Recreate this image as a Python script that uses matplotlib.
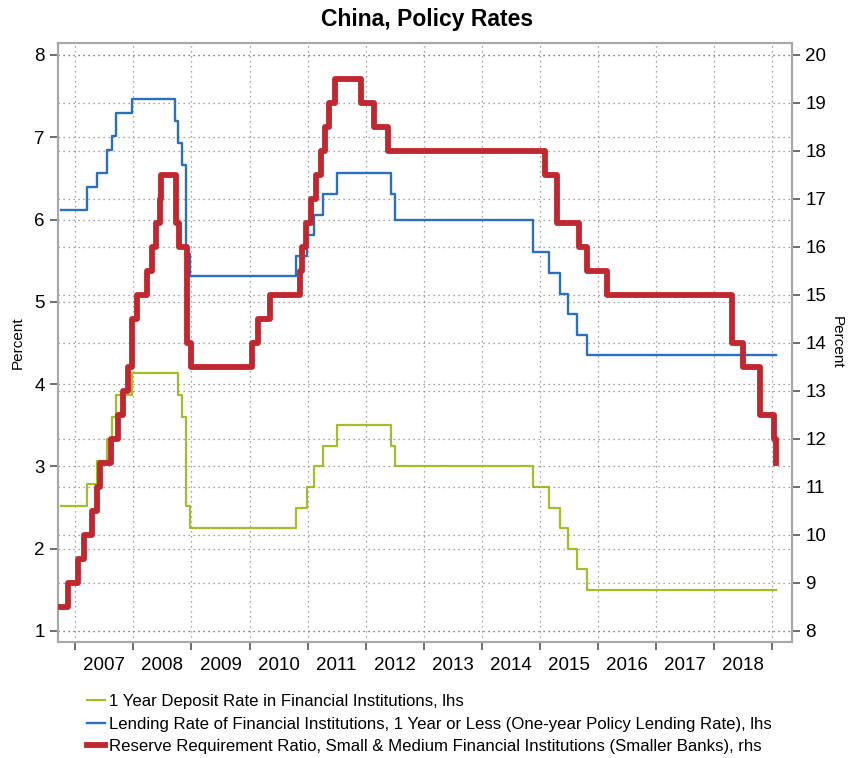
import matplotlib
matplotlib.use("Agg")
import matplotlib.pyplot as plt
import pandas as pd

plt.rcParams['font.family'] = ['Liberation Sans', 'DejaVu Sans']

# Rate change dates and new levels (percent)
deposit_dates = ["2006-10-01", "2007-03-18", "2007-05-19", "2007-07-21", "2007-08-22",
                 "2007-09-15", "2007-12-21", "2008-10-09", "2008-10-30", "2008-11-27",
                 "2008-12-23", "2010-10-20", "2010-12-26", "2011-02-09", "2011-04-06",
                 "2011-07-07", "2012-06-08", "2012-07-06", "2014-11-22", "2015-03-01",
                 "2015-05-11", "2015-06-28", "2015-08-26", "2015-10-24", "2019-01-28"]
deposit_rate = [2.52, 2.79, 3.06, 3.33, 3.60, 3.87, 4.14, 3.87, 3.60, 2.52, 2.25, 2.50,
                2.75, 3.00, 3.25, 3.50, 3.25, 3.00, 2.75, 2.50, 2.25, 2.00, 1.75, 1.50, 1.50]

lending_dates = ["2006-10-01", "2007-03-18", "2007-05-19", "2007-07-21", "2007-08-22",
                 "2007-09-15", "2007-12-21", "2008-09-16", "2008-10-09", "2008-10-30",
                 "2008-11-27", "2008-12-23", "2010-10-20", "2010-12-26", "2011-02-09",
                 "2011-04-06", "2011-07-07", "2012-06-08", "2012-07-06", "2014-11-22",
                 "2015-03-01", "2015-05-11", "2015-06-28", "2015-08-26", "2015-10-24",
                 "2019-01-28"]
lending_rate = [6.12, 6.39, 6.57, 6.84, 7.02, 7.29, 7.47, 7.20, 6.93, 6.66, 5.58, 5.31,
                5.56, 5.81, 6.06, 6.31, 6.56, 6.31, 6.00, 5.60, 5.35, 5.10, 4.85, 4.60,
                4.35, 4.35]

rrr_dates = ["2006-10-01", "2006-11-15", "2007-01-15", "2007-02-25", "2007-04-16",
             "2007-05-15", "2007-06-05", "2007-08-15", "2007-09-25", "2007-10-25",
             "2007-11-26", "2007-12-25", "2008-01-25", "2008-03-25", "2008-04-25",
             "2008-05-20", "2008-06-15", "2008-06-25", "2008-09-25", "2008-10-15",
             "2008-12-05", "2008-12-25", "2010-01-18", "2010-02-25", "2010-05-10",
             "2010-11-16", "2010-11-29", "2010-12-20", "2011-01-20", "2011-02-24",
             "2011-03-25", "2011-04-21", "2011-05-18", "2011-06-20", "2011-12-05",
             "2012-02-24", "2012-05-18", "2015-02-05", "2015-04-20", "2015-09-06",
             "2015-10-24", "2016-03-01", "2018-04-25", "2018-07-05", "2018-10-15",
             "2019-01-15", "2019-01-25", "2019-01-28"]
rrr_rate = [8.5, 9.0, 9.5, 10.0, 10.5, 11.0, 11.5, 12.0, 12.5, 13.0, 13.5, 14.5, 15.0,
            15.5, 16.0, 16.5, 17.0, 17.5, 16.5, 16.0, 14.0, 13.5, 14.0, 14.5, 15.0, 15.5,
            16.0, 16.5, 17.0, 17.5, 18.0, 18.5, 19.0, 19.5, 19.0, 18.5, 18.0, 17.5, 16.5,
            16.0, 15.5, 15.0, 14.0, 13.5, 12.5, 12.0, 11.5, 11.5]

years = list(range(2007, 2019))

labels = ["1 Year Deposit Rate in Financial Institutions, lhs",
          "Lending Rate of Financial Institutions, 1 Year or Less (One-year Policy Lending Rate), lhs",
          "Reserve Requirement Ratio, Small & Medium Financial Institutions (Smaller Banks), rhs"]
colors = ["#a4bd2b", "#2a6fc0", "#c1272f"]


def to_year(dates):
    d = pd.to_datetime(dates)
    return d.year + (d.dayofyear - 1) / 365.25


fig = plt.figure(figsize=(8.54, 7.58), dpi=100)
ax = fig.add_axes([0.0679, 0.153, 0.8595, 0.7903])
ax2 = ax.twinx()

l1, = ax.plot(to_year(deposit_dates), deposit_rate, drawstyle="steps-post",
              color=colors[0], lw=1.6, zorder=3)
l2, = ax.plot(to_year(lending_dates), lending_rate, drawstyle="steps-post",
              color=colors[1], lw=1.7, zorder=3)
l3, = ax2.plot(to_year(rrr_dates), rrr_rate, drawstyle="steps-post",
               color=colors[2], lw=4.2, zorder=3)

ax.set_xlim(2006.70, 2019.345)
ax.set_ylim(0.866, 8.146)
ax2.set_ylim(8 + (0.866 - 1) * 12 / 7, 8 + (8.146 - 1) * 12 / 7)

ax.set_yticks(range(1, 9))
ax2.set_yticks(range(8, 21))

# year boundaries as ticks, labels centred on each year
ax.set_xticks(range(2007, 2020))
ax.set_xticklabels([])
ax.set_xticks([y + 0.5 for y in years], minor=True)
ax.set_xticklabels([str(y) for y in years], minor=True)
ax.tick_params(axis="x", which="minor", length=0, pad=11, labelsize=13.5)
ax.tick_params(axis="x", which="major", length=6, width=1.2, color="#555555")
ax.tick_params(axis="y", length=6, width=1.2, color="#555555", labelsize=13.5)
ax2.tick_params(axis="y", length=6, width=1.2, color="#555555", labelsize=13.5)

ax.grid(True, which="major", linestyle=(0, (1, 3)), color="#888888", lw=0.9)
ax2.grid(True, axis="y", linestyle=(0, (1, 3)), color="#888888", lw=0.9)
ax.set_axisbelow(True)
ax2.set_axisbelow(True)

for a in (ax, ax2):
    for s in a.spines.values():
        s.set_color("#a8a8a8")
        s.set_linewidth(1.5)

ax.set_ylabel("Percent", fontsize=11)
ax.yaxis.set_label_coords(-0.045, 0.5)
ax2.set_ylabel("Percent", fontsize=11, rotation=270)
ax2.yaxis.set_label_coords(1.07, 0.5)

fig.suptitle("China, Policy Rates", fontsize=16.5, fontweight="bold", y=0.99)

fig.legend([l1, l2, l3], labels, loc="upper left", bbox_to_anchor=(0.094, 0.093),
           frameon=False, fontsize=12.1, handlelength=1.1, handletextpad=0.2,
           labelspacing=0.45, borderaxespad=0)

fig.savefig("out.png", dpi=100)
